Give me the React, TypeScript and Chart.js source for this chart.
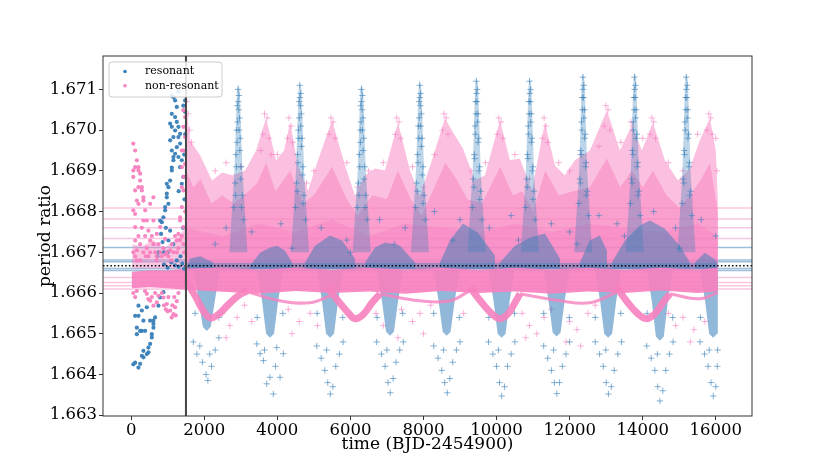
import { useEffect, useRef } from 'react';
import { Chart, registerables } from 'chart.js';

Chart.register(...registerables);

type P = [number, number];

const BLUE = '55, 126, 184';
const PINK = '247, 129, 191';
const rgba = (c: string, a: number) => `rgba(${c}, ${a})`;
const FONT = '"DejaVu Serif", serif';

// axis set-up
const X_MIN = -770;
const X_MAX = 16990;
const Y_MIN = 1.66298;
const Y_MAX = 1.67182;
const SWITCH_TIME = 1500;
const RATIO = 5 / 3;

const xTicks = [0, 2000, 4000, 6000, 8000, 10000, 12000, 14000, 16000];
const yTicks = [1.663, 1.664, 1.665, 1.666, 1.667, 1.668, 1.669, 1.67, 1.671];
const legendLabels = ['resonant', 'non-resonant'];

// horizontal reference levels
const pinkLevels = [1.66809, 1.66782, 1.6676, 1.66734, 1.66638, 1.66626, 1.66618, 1.6661];
const blueLevels = [1.66712, 1.66681, 1.66677, 1.6666, 1.66655];

// before the switch time: plain dots
const blueDots: P[] = [
  [60, 1.66425], [109, 1.66429], [200, 1.66417], [246, 1.66426], [293, 1.66446], [336, 1.66442],
  [429, 1.6645], [473, 1.66454], [383, 1.66507], [246, 1.66507], [156, 1.66515], [109, 1.66544],
  [200, 1.66544], [293, 1.66557], [429, 1.66565], [520, 1.66532], [566, 1.66499], [610, 1.66515],
  [520, 1.66475], [473, 1.66466], [610, 1.66532], [656, 1.6654], [747, 1.66569], [793, 1.66589],
  [883, 1.66602], [156, 1.66499], [293, 1.66507], [336, 1.66532], [200, 1.66569], [336, 1.66458],
  [566, 1.66491], [610, 1.66524], [840, 1.66774], [883, 1.66786], [930, 1.66803], [976, 1.66835],
  [1020, 1.6686], [1067, 1.66876], [1113, 1.66901], [1157, 1.66926], [1203, 1.66942], [1250, 1.66958],
  [1294, 1.66983], [1340, 1.66991], [1067, 1.66975], [1113, 1.67008], [1067, 1.66753], [1020, 1.66729],
  [930, 1.66811], [976, 1.66844], [1113, 1.66908], [1157, 1.66934], [1113, 1.6695], [1157, 1.66983],
  [1203, 1.66999], [1250, 1.6702], [1203, 1.67032], [1113, 1.6704], [1157, 1.67081], [1250, 1.67057],
  [1294, 1.67008], [1340, 1.66967], [1387, 1.66926], [1430, 1.66885], [1477, 1.67073], [1387, 1.66868],
  [1340, 1.66909], [1294, 1.66934], [1067, 1.67016], [976, 1.66868], [1020, 1.66819], [1113, 1.67085],
  [1203, 1.67073], [1294, 1.67095], [1430, 1.6706], [1477, 1.67045], [793, 1.66778], [820, 1.66745],
  [860, 1.66725], [760, 1.667], [720, 1.6669], [900, 1.667], [950, 1.6676], [1000, 1.667],
  [1150, 1.6672], [1300, 1.6685], [1420, 1.6676], [1450, 1.6694], [1480, 1.6699], [1460, 1.6683],
  [1100, 1.66675], [1200, 1.66668], [1300, 1.66665], [1400, 1.66672], [1450, 1.6666], [1000, 1.66662],
  [900, 1.6667], [1350, 1.6669], [1250, 1.6668],
];

const pinkDots: P[] = [
  [60, 1.66967], [109, 1.6695], [156, 1.66926], [200, 1.66901], [60, 1.66901], [246, 1.66876],
  [293, 1.66852], [336, 1.66827], [383, 1.66803], [429, 1.66778], [473, 1.66753], [520, 1.66729],
  [200, 1.6686], [156, 1.66827], [109, 1.66794], [109, 1.66762], [109, 1.66729], [336, 1.66778],
  [610, 1.66778], [703, 1.66745], [793, 1.66762], [930, 1.66733], [520, 1.66819], [610, 1.66835],
  [1387, 1.66811], [1340, 1.66778], [1430, 1.66762], [1294, 1.66745], [1250, 1.66729], [1387, 1.6686],
  [1430, 1.66885], [1477, 1.66917], [1387, 1.6695], [109, 1.66909], [200, 1.66909], [246, 1.66893],
  [293, 1.6686], [336, 1.66835], [200, 1.66819], [109, 1.66852], [60, 1.66885], [60, 1.66803],
  [1340, 1.66786], [1430, 1.66852], [1387, 1.66909], [1430, 1.6695], [1477, 1.66983], [1477, 1.67032],
  [1430, 1.67049], [1430, 1.67008], [60, 1.667], [109, 1.6669], [156, 1.66705], [200, 1.6674],
  [246, 1.6672], [293, 1.6676], [336, 1.667], [383, 1.6674], [429, 1.6671], [473, 1.6669],
  [520, 1.667], [566, 1.6674], [610, 1.6672], [656, 1.667], [703, 1.6669], [747, 1.6672],
  [793, 1.667], [840, 1.6669], [883, 1.6671], [930, 1.66695], [976, 1.667], [1020, 1.6669],
  [1067, 1.66705], [1113, 1.6672], [1157, 1.667], [1203, 1.6674], [1250, 1.667], [1294, 1.6671],
  [1340, 1.6673], [1387, 1.6674], [1430, 1.6672], [1477, 1.668], [1450, 1.667], [1100, 1.6668],
  [700, 1.6668], [400, 1.6669], [250, 1.6668], [150, 1.6668],
  [429, 1.66598], [520, 1.66581], [610, 1.66569], [703, 1.66577], [747, 1.66593], [883, 1.66589],
  [976, 1.66573], [1067, 1.66557], [1157, 1.66548], [1203, 1.66565], [1250, 1.6658], [1294, 1.666],
  [1020, 1.6659], [840, 1.666], [656, 1.666], [566, 1.6659], [470, 1.66585], [380, 1.66605],
  [1130, 1.6657], [1180, 1.6659], [900, 1.6657], [950, 1.6656], [1000, 1.66555], [1110, 1.6654],
  [1220, 1.66545], [60, 1.666], [109, 1.6659], [156, 1.66605],
];

// after the switch time: dense clouds (outlines) plus scattered crosses
const pinkOuter: P[] = [
  [1504, 1.6666], [1504, 1.67068], [1614, 1.66975], [1887, 1.66938], [2215, 1.66876], [2489, 1.66896],
  [2762, 1.66889], [3118, 1.66901], [3419, 1.6695], [3692, 1.67029], [3966, 1.66926], [4185, 1.6695],
  [4349, 1.67019], [4567, 1.66913], [4841, 1.66852], [5114, 1.66926], [5497, 1.67024], [5853, 1.66913],
  [6126, 1.66839], [6400, 1.66889], [6673, 1.66906], [6947, 1.66901], [7302, 1.67019], [7631, 1.66901],
  [7904, 1.66839], [8232, 1.66926], [8588, 1.67029], [8779, 1.66999], [9080, 1.66955], [9408, 1.66876],
  [9682, 1.66889], [10092, 1.67024], [10366, 1.66926], [10639, 1.6693], [10967, 1.66852], [11323, 1.67019],
  [11596, 1.66913], [11870, 1.66889], [12143, 1.66926], [12554, 1.6695], [13019, 1.67049], [13374, 1.6695],
  [13702, 1.67012], [13976, 1.6695], [14277, 1.67019], [14605, 1.66926], [14961, 1.66876], [15289, 1.66906],
  [15562, 1.66975], [15836, 1.67029], [16000, 1.6695], [16054, 1.66827], [16054, 1.6666],
];

const pinkInner: P[] = [
  [1504, 1.6666], [1504, 1.669], [1700, 1.6686], [1900, 1.6688], [2200, 1.6682], [2500, 1.6684],
  [2800, 1.6682], [3100, 1.6684], [3450, 1.6687], [3700, 1.6692], [3950, 1.6685], [4350, 1.669],
  [4700, 1.6682], [5000, 1.6684], [5500, 1.6691], [5900, 1.6683], [6200, 1.6679], [6600, 1.6684],
  [7000, 1.6683], [7300, 1.669], [7650, 1.6683], [7950, 1.6679], [8250, 1.6685], [8600, 1.6692],
  [8900, 1.6688], [9200, 1.6683], [9600, 1.6682], [10100, 1.6691], [10450, 1.6684], [10700, 1.6685],
  [11000, 1.668], [11330, 1.669], [11700, 1.6684], [12100, 1.6685], [12550, 1.6686], [13020, 1.6693],
  [13380, 1.6686], [13700, 1.669], [14000, 1.6686], [14280, 1.669], [14650, 1.6684], [15000, 1.6681],
  [15300, 1.6684], [15600, 1.6688], [15840, 1.6692], [16054, 1.668], [16054, 1.6666],
];

const pinkDense: P[] = [
  [1504, 1.6666], [1504, 1.6676], [2500, 1.6674], [3500, 1.6677], [4500, 1.6675], [5500, 1.6678],
  [6500, 1.6674], [7500, 1.6677], [8500, 1.6676], [9500, 1.6675], [10500, 1.6677], [11500, 1.6675],
  [12500, 1.6677], [13500, 1.6676], [14500, 1.6675], [15500, 1.6677], [16054, 1.6674], [16054, 1.6666],
];

const pinkPre: P[] = [
  [20, 1.6666], [40, 1.6672], [300, 1.66715], [600, 1.6673], [900, 1.6671], [1200, 1.6673],
  [1500, 1.6676], [1500, 1.6666],
];

const pinkBand: P[] = [
  [20, 1.66652], [500, 1.66656], [1000, 1.66655], [1500, 1.6666], [2500, 1.66662], [3500, 1.66658],
  [4500, 1.66662], [5500, 1.66657], [6500, 1.66662], [7500, 1.66658], [8500, 1.66662], [9500, 1.66657],
  [10500, 1.66662], [11500, 1.66658], [12500, 1.66662], [13500, 1.66657], [14500, 1.66662], [15500, 1.66658],
  [16054, 1.66662], [16054, 1.66604], [15500, 1.666], [14500, 1.66606], [13500, 1.666], [12500, 1.66604],
  [11500, 1.66598], [10500, 1.66604], [9500, 1.666], [8500, 1.66605], [7500, 1.66598], [6500, 1.66604],
  [5500, 1.666], [4500, 1.66605], [3500, 1.66598], [2500, 1.66603], [1500, 1.66608], [1000, 1.66612],
  [500, 1.66614], [20, 1.66612],
];

const blueBand: P[] = [[1504, 1.66658], [16054, 1.66658], [16054, 1.66674], [1504, 1.66674]];

const blueHumps: P[][] = [
  [[1532, 1.6666], [1614, 1.66685], [1887, 1.6669], [2243, 1.66675], [2243, 1.6666]],
  [[3255, 1.6666], [3255, 1.66667], [3528, 1.66699], [3802, 1.66712], [3993, 1.66716], [4212, 1.66704], [4404, 1.66675], [4404, 1.6666]],
  [[4759, 1.6666], [4759, 1.66675], [5032, 1.66716], [5443, 1.66741], [5771, 1.66729], [6126, 1.66685], [6126, 1.6666]],
  [[6400, 1.6666], [6400, 1.66675], [6673, 1.66712], [6947, 1.66724], [7357, 1.66716], [7767, 1.66675], [7767, 1.6666]],
  [[8451, 1.6666], [8451, 1.66675], [8725, 1.66729], [9080, 1.66771], [9490, 1.66748], [9955, 1.66692], [9955, 1.6666]],
  [[10092, 1.6666], [10092, 1.66675], [10502, 1.66716], [10913, 1.66736], [11323, 1.66746], [11733, 1.66685], [11733, 1.6666]],
  [[12280, 1.6666], [12280, 1.66675], [12554, 1.66729], [12827, 1.66741], [13019, 1.66704], [13019, 1.6666]],
  [[13155, 1.6666], [13155, 1.66675], [13511, 1.66729], [13921, 1.66766], [14195, 1.66778], [14605, 1.66758], [15015, 1.66716], [15289, 1.66675], [15289, 1.6666]],
  [[15425, 1.6666], [15425, 1.66675], [15699, 1.66699], [16027, 1.6668], [16027, 1.6666]],
];

const blueUp: P[][] = [
  [[2689, 1.667], [2825, 1.669], [2894, 1.67094], [2935, 1.67114], [2976, 1.67094], [3045, 1.669], [3181, 1.667]],
  [[4376, 1.667], [4512, 1.669], [4581, 1.67098], [4622, 1.67118], [4663, 1.67098], [4732, 1.669], [4868, 1.667]],
  [[6064, 1.667], [6200, 1.669], [6269, 1.67094], [6310, 1.67114], [6351, 1.67094], [6420, 1.669], [6556, 1.667]],
  [[7658, 1.667], [7794, 1.669], [7863, 1.67102], [7904, 1.67122], [7945, 1.67102], [8014, 1.669], [8150, 1.667]],
  [[9209, 1.667], [9345, 1.669], [9414, 1.6711], [9455, 1.6713], [9496, 1.6711], [9565, 1.669], [9701, 1.667]],
  [[10667, 1.667], [10803, 1.669], [10872, 1.67107], [10913, 1.67127], [10954, 1.67107], [11023, 1.669], [11159, 1.667]],
  [[12124, 1.667], [12260, 1.669], [12329, 1.67119], [12370, 1.67139], [12411, 1.67119], [12480, 1.669], [12616, 1.667]],
  [[13538, 1.667], [13674, 1.669], [13743, 1.67123], [13784, 1.67143], [13825, 1.67123], [13894, 1.669], [14030, 1.667]],
  [[14952, 1.667], [15088, 1.669], [15157, 1.6712], [15198, 1.6714], [15239, 1.6712], [15308, 1.669], [15444, 1.667]],
];

const blueDown: P[][] = [
  [[1714, 1.66655], [1851, 1.6658], [1961, 1.66517], [2070, 1.66507], [2179, 1.66517], [2289, 1.6658], [2426, 1.66655]],
  [[3446, 1.66655], [3583, 1.6658], [3693, 1.665], [3802, 1.6649], [3911, 1.665], [4021, 1.6658], [4158, 1.66655]],
  [[5087, 1.66655], [5224, 1.6658], [5334, 1.665], [5443, 1.6649], [5552, 1.665], [5662, 1.6658], [5799, 1.66655]],
  [[6728, 1.66655], [6865, 1.6658], [6975, 1.66505], [7084, 1.66495], [7193, 1.66505], [7303, 1.6658], [7440, 1.66655]],
  [[8278, 1.66655], [8415, 1.6658], [8525, 1.66505], [8634, 1.66495], [8743, 1.66505], [8853, 1.6658], [8990, 1.66655]],
  [[9782, 1.66655], [9919, 1.6658], [10029, 1.665], [10138, 1.6649], [10247, 1.665], [10357, 1.6658], [10494, 1.66655]],
  [[11287, 1.66655], [11424, 1.6658], [11534, 1.66503], [11643, 1.66493], [11752, 1.66503], [11862, 1.6658], [11999, 1.66655]],
  [[12698, 1.66655], [12835, 1.6658], [12945, 1.665], [13054, 1.6649], [13163, 1.665], [13273, 1.6658], [13410, 1.66655]],
  [[14112, 1.66655], [14249, 1.6658], [14359, 1.66493], [14468, 1.66483], [14577, 1.66493], [14687, 1.6658], [14824, 1.66655]],
  [[15570, 1.66655], [15707, 1.6658], [15817, 1.665], [15926, 1.6649], [16035, 1.665], [16054, 1.6658], [16054, 1.66655]],
];

const pinkCurves: P[][] = [
  [[1504, 1.6663], [1750, 1.66593], [1969, 1.66557], [2161, 1.66539], [2380, 1.66547], [2653, 1.66571], [2926, 1.66593], [3200, 1.66606]],
  [[5352, 1.66614], [5662, 1.66581], [5935, 1.66552], [6126, 1.66537], [6345, 1.66547], [6591, 1.66576], [6810, 1.66598]],
  [[9272, 1.66614], [9600, 1.66576], [9873, 1.66549], [10092, 1.66537], [10311, 1.66549], [10502, 1.66576], [10639, 1.66598]],
  [[13284, 1.66614], [13593, 1.66576], [13866, 1.66549], [14104, 1.66537], [14331, 1.66549], [14550, 1.66576], [14742, 1.66598]],
];

const pinkStrands: P[][] = [
  [[3255, 1.66601], [4075, 1.66581], [4896, 1.66576], [5443, 1.66593]],
  [[6810, 1.66598], [7904, 1.66581], [8725, 1.66581], [9272, 1.66606]],
  [[10639, 1.66598], [11733, 1.66581], [12554, 1.66576], [13265, 1.66601]],
  [[14742, 1.66598], [15562, 1.66586], [16054, 1.66601]],
];

const bluePlus: P[] = [
  [2925, 1.671], [2950, 1.67085], [2905, 1.6706], [2965, 1.6703], [2890, 1.67], [2985, 1.6698], [2870, 1.6694], [3010, 1.6691], [2845, 1.6687], [3040, 1.6684], [2810, 1.6681], [3080, 1.6678],
  [2930, 1.6707], [2945, 1.6705], [2915, 1.6702], [2955, 1.67], [2900, 1.6697], [2975, 1.6695], [2880, 1.6691], [3000, 1.6688], [2860, 1.6684], [3020, 1.6681],
  [4612, 1.6711], [4640, 1.6709], [4595, 1.6707], [4655, 1.6704], [4580, 1.67], [4675, 1.6698], [4555, 1.6694], [4700, 1.6691], [4530, 1.6687], [4730, 1.6684], [4500, 1.6681], [4770, 1.6678],
  [4617, 1.6708], [4632, 1.6706], [4602, 1.6703], [4642, 1.6701], [4587, 1.6698], [4662, 1.6696], [4567, 1.6692], [4687, 1.6689], [4547, 1.6685], [4707, 1.6682],
  [6300, 1.671], [6328, 1.67085], [6285, 1.6706], [6345, 1.6703], [6270, 1.67], [6365, 1.6698], [6245, 1.6694], [6390, 1.6691], [6220, 1.6687], [6420, 1.6684], [6190, 1.6681], [6460, 1.6678],
  [6305, 1.6707], [6320, 1.6705], [6290, 1.6702], [6330, 1.67], [6275, 1.6697], [6350, 1.6695], [6255, 1.6691], [6375, 1.6688], [6235, 1.6684], [6395, 1.6681],
  [7895, 1.6711], [7920, 1.6709], [7880, 1.6707], [7940, 1.6704], [7862, 1.6701], [7960, 1.6698], [7840, 1.6694], [7985, 1.6691], [7815, 1.6687], [8015, 1.6684], [7785, 1.6681], [8050, 1.6678],
  [7899, 1.6708], [7914, 1.6706], [7884, 1.6703], [7924, 1.6701], [7869, 1.6698], [7944, 1.6696], [7849, 1.6692], [7969, 1.6689], [7829, 1.6685], [7989, 1.6682],
  [9445, 1.6712], [9470, 1.671], [9430, 1.6707], [9490, 1.6704], [9412, 1.6701], [9510, 1.6698], [9390, 1.6694], [9535, 1.6691], [9365, 1.6688], [9565, 1.6685], [9335, 1.6681], [9600, 1.6678],
  [9450, 1.6709], [9465, 1.6707], [9435, 1.6704], [9475, 1.6702], [9420, 1.6699], [9495, 1.6697], [9400, 1.6693], [9520, 1.669], [9380, 1.6686], [9540, 1.6683],
  [10903, 1.6712], [10930, 1.671], [10888, 1.6707], [10948, 1.6704], [10870, 1.6701], [10968, 1.6698], [10848, 1.6694], [10993, 1.6691], [10823, 1.6688], [11023, 1.6685], [10793, 1.6681], [11058, 1.6678],
  [10908, 1.6709], [10923, 1.6707], [10893, 1.6704], [10933, 1.6702], [10878, 1.6699], [10953, 1.6697], [10858, 1.6693], [10978, 1.669], [10838, 1.6686], [10998, 1.6683],
  [12360, 1.6713], [12385, 1.6711], [12345, 1.6708], [12405, 1.6705], [12327, 1.6702], [12425, 1.6699], [12305, 1.6695], [12450, 1.6692], [12280, 1.6688], [12480, 1.6685], [12250, 1.6682], [12515, 1.6679],
  [12365, 1.671], [12380, 1.6708], [12350, 1.6705], [12390, 1.6703], [12335, 1.67], [12410, 1.6698], [12315, 1.6694], [12435, 1.6691], [12295, 1.6687], [12455, 1.6684],
  [13774, 1.6713], [13800, 1.6711], [13759, 1.6708], [13819, 1.6705], [13741, 1.6702], [13839, 1.6699], [13719, 1.6695], [13864, 1.6692], [13694, 1.6688], [13894, 1.6685], [13664, 1.6682], [13929, 1.6679],
  [13779, 1.671], [13794, 1.6708], [13764, 1.6705], [13804, 1.6703], [13749, 1.67], [13824, 1.6698], [13729, 1.6694], [13849, 1.6691], [13709, 1.6687], [13869, 1.6684],
  [15188, 1.6713], [15214, 1.6711], [15173, 1.6708], [15233, 1.6705], [15155, 1.6702], [15253, 1.6699], [15133, 1.6695], [15278, 1.6692], [15108, 1.6688], [15308, 1.6685], [15078, 1.6682], [15343, 1.6679],
  [15193, 1.671], [15208, 1.6708], [15178, 1.6705], [15218, 1.6703], [15163, 1.67], [15238, 1.6698], [15143, 1.6694], [15263, 1.6691], [15123, 1.6687], [15283, 1.6684],
  [2300, 1.6672], [3300, 1.6675], [4100, 1.6677], [5200, 1.6676], [5900, 1.6673], [6800, 1.6678], [7500, 1.6676],
  [8300, 1.668], [9000, 1.6678], [9800, 1.6676], [10400, 1.6679], [11500, 1.6677], [12000, 1.6675], [12800, 1.6679],
  [13300, 1.6677], [14300, 1.668], [14900, 1.6676], [15600, 1.6678], [16000, 1.6674], [2600, 1.6676], [4400, 1.6671],
  [6000, 1.667], [7200, 1.6672], [8800, 1.6673], [10600, 1.6673], [12200, 1.6672], [13500, 1.6674], [15000, 1.6671],
  [1700, 1.6648], [1800, 1.6645], [1950, 1.6643], [2050, 1.664], [2100, 1.66385], [2200, 1.6642], [2300, 1.6646], [2400, 1.6649], [1880, 1.6647], [2150, 1.6645],
  [3440, 1.66475], [3530, 1.66451], [3620, 1.66434], [3710, 1.66377], [3800, 1.66393], [3890, 1.66352], [3985, 1.66466], [4075, 1.66393], [4165, 1.66451], [3950, 1.6642], [3650, 1.6646],
  [5080, 1.6647], [5200, 1.6644], [5300, 1.6641], [5380, 1.6638], [5450, 1.66352], [5520, 1.6637], [5600, 1.6642], [5700, 1.6645], [5800, 1.6648], [5350, 1.6646],
  [6720, 1.6648], [6850, 1.6645], [6950, 1.6642], [7030, 1.6638], [7090, 1.66355], [7170, 1.6639], [7250, 1.6643], [7350, 1.6646], [7450, 1.6648], [7000, 1.6646],
  [8280, 1.6647], [8400, 1.6644], [8500, 1.6641], [8580, 1.6638], [8650, 1.66355], [8720, 1.6639], [8800, 1.6643], [8900, 1.6646], [9000, 1.6648], [8550, 1.6646],
  [9780, 1.6648], [9900, 1.6645], [10000, 1.6642], [10080, 1.6638], [10140, 1.66347], [10220, 1.6637], [10300, 1.6642], [10400, 1.6645], [10500, 1.6648], [10050, 1.6646],
  [11290, 1.6647], [11400, 1.6644], [11500, 1.6641], [11580, 1.6638], [11650, 1.66353], [11720, 1.6638], [11800, 1.6642], [11900, 1.6645], [12000, 1.6648], [11560, 1.6646],
  [12700, 1.6648], [12820, 1.6645], [12920, 1.6642], [13000, 1.6638], [13060, 1.66352], [13140, 1.6637], [13220, 1.6641], [13320, 1.6645], [13420, 1.6648], [12990, 1.6646],
  [14110, 1.6647], [14230, 1.6644], [14330, 1.6641], [14410, 1.6637], [14470, 1.66335], [14550, 1.6636], [14630, 1.6641], [14730, 1.6645], [14830, 1.6648], [14400, 1.6645],
  [15570, 1.6648], [15690, 1.6645], [15790, 1.6642], [15870, 1.6638], [15930, 1.66347], [16000, 1.6637], [16040, 1.6642], [16050, 1.6646], [15820, 1.6646],
  [1750, 1.6655], [2400, 1.6654], [3450, 1.6654], [4150, 1.6655], [5090, 1.6655], [5790, 1.6654], [6730, 1.6654], [7430, 1.6655], [8280, 1.6655], [8980, 1.6654],
  [9790, 1.6654], [10490, 1.6655], [11290, 1.6655], [11990, 1.6654], [12700, 1.6654], [13400, 1.6655], [14120, 1.6655], [14820, 1.6654], [15580, 1.6654],
];

const pinkPlus: P[] = [
  [2500, 1.6655], [2700, 1.6652], [2900, 1.6654], [3100, 1.6657], [3300, 1.6653], [4300, 1.6656], [4600, 1.6653], [4900, 1.6655],
  [5100, 1.6652], [6700, 1.6655], [6900, 1.6652], [7400, 1.6656], [7700, 1.6653], [7900, 1.6655], [8200, 1.6657], [9100, 1.6655],
  [10700, 1.6655], [10900, 1.6652], [11100, 1.665], [11300, 1.6654], [11500, 1.6656], [12000, 1.6653], [12200, 1.6651], [12500, 1.6655],
  [12700, 1.6657], [14700, 1.6655], [14900, 1.6652], [15100, 1.6654], [15400, 1.6651], [15700, 1.6653], [11900, 1.6648], [10800, 1.6649],
  [2600, 1.6649], [4400, 1.665], [7300, 1.6649], [8000, 1.665], [15300, 1.6648], [12300, 1.6647],
  [3650, 1.6704], [3720, 1.6703], [3600, 1.6699], [3780, 1.6698], [3550, 1.6695], [3830, 1.6694],
  [4320, 1.6703], [4380, 1.6701], [4280, 1.6698], [4420, 1.6697], [5470, 1.6703], [5530, 1.6702], [5420, 1.6699], [5580, 1.6698],
  [7270, 1.6703], [7330, 1.6702], [7230, 1.6699], [7380, 1.6698], [8560, 1.6704], [8620, 1.6703], [8520, 1.67], [8670, 1.6699],
  [10060, 1.6703], [10120, 1.6702], [10020, 1.6699], [10170, 1.6698], [11300, 1.6703], [11350, 1.6701], [11250, 1.6698], [11400, 1.6697],
  [12990, 1.6706], [13050, 1.6705], [12950, 1.6701], [13100, 1.67], [13680, 1.6702], [13730, 1.6701], [14250, 1.6703], [14300, 1.6702],
  [14200, 1.6699], [14350, 1.6698], [15810, 1.6704], [15860, 1.6703], [15760, 1.67], [15900, 1.6699], [1520, 1.6707], [1560, 1.6704],
  [1600, 1.67], [1650, 1.6697],
  [2300, 1.669], [2600, 1.6692], [3000, 1.6691], [4000, 1.6694], [4800, 1.6687], [5000, 1.669], [5900, 1.6692], [6200, 1.6686],
  [6500, 1.669], [6900, 1.6692], [7700, 1.6691], [8000, 1.6686], [8300, 1.6694], [9300, 1.669], [9700, 1.6692], [10500, 1.6694],
  [10900, 1.6688], [11700, 1.6692], [12000, 1.669], [12300, 1.6694], [12800, 1.6696], [13400, 1.6697], [14000, 1.6698], [14700, 1.6692],
  [15100, 1.669], [15500, 1.6699], [16000, 1.6698], [16030, 1.669],
];

const pts = (arr: P[]) => arr.map(([x, y]) => ({ x, y }));
const joined = (polys: P[][]) =>
  polys.flatMap((p) => [...pts(p), { x: p[p.length - 1][0], y: null as number | null }]);

const shapeSet = (polys: P[][], color: string) => ({
  type: 'line' as const,
  data: joined(polys),
  fill: 'shape',
  backgroundColor: color,
  borderColor: 'rgba(0,0,0,0)',
  borderWidth: 0,
  pointRadius: 0,
  spanGaps: false,
});

const hline = (y: number, color: string, width: number, dash: number[] = []) => ({
  type: 'line' as const,
  data: [{ x: X_MIN, y }, { x: X_MAX, y }],
  borderColor: color,
  borderWidth: width,
  borderDash: dash,
  pointRadius: 0,
  fill: false,
});

const curveSet = (polys: P[][], color: string, width: number) => ({
  type: 'line' as const,
  data: joined(polys),
  borderColor: color,
  borderWidth: width,
  pointRadius: 0,
  tension: 0.4,
  fill: false,
  spanGaps: false,
});

const crossSet = (arr: P[], color: string) => ({
  type: 'scatter' as const,
  data: pts(arr),
  pointStyle: 'cross',
  pointRadius: 3.2,
  borderWidth: 1,
  borderColor: color,
  backgroundColor: color,
});

const dotSet = (arr: P[], color: string) => ({
  type: 'scatter' as const,
  data: pts(arr),
  pointStyle: 'circle',
  pointRadius: 2.1,
  borderWidth: 0,
  backgroundColor: color,
});

const framePlugin = {
  id: 'frameAndLegend',
  afterDraw(chart: any) {
    const { ctx, chartArea: a } = chart;
    ctx.save();
    ctx.strokeStyle = '#333';
    ctx.lineWidth = 1;
    ctx.strokeRect(a.left, a.top, a.right - a.left, a.bottom - a.top);

    const x0 = a.left + 6;
    const y0 = a.top + 6;
    ctx.fillStyle = 'rgba(255,255,255,0.85)';
    ctx.strokeStyle = '#cccccc';
    ctx.beginPath();
    ctx.roundRect(x0, y0, 113, 35, 3);
    ctx.fill();
    ctx.stroke();
    const colors = [BLUE, PINK];
    ctx.font = `11px ${FONT}`;
    ctx.textBaseline = 'middle';
    legendLabels.forEach((label, i) => {
      const cy = y0 + 9.5 + i * 14.3;
      ctx.fillStyle = rgba(colors[i], 1);
      ctx.beginPath();
      ctx.arc(x0 + 16, cy, 1.8, 0, Math.PI * 2);
      ctx.fill();
      ctx.fillStyle = '#000';
      ctx.fillText(label, x0 + 36, cy);
    });
    ctx.restore();
  },
};

export default function App() {
  const canvasRef = useRef<HTMLCanvasElement>(null);

  useEffect(() => {
    if (!canvasRef.current) return;

    // back to front
    const layers: any[] = [
      ...pinkLevels.map((v) => hline(v, rgba(PINK, 0.45), 1.5)),
      ...blueLevels.map((v) => hline(v, rgba(BLUE, 0.5), 1.5)),
      shapeSet([pinkOuter], rgba(PINK, 0.5)),
      shapeSet([pinkInner], rgba(PINK, 0.5)),
      shapeSet([pinkDense, pinkPre], rgba(PINK, 0.45)),
      crossSet(pinkPlus, rgba(PINK, 0.6)),
      shapeSet([blueBand], rgba(BLUE, 0.45)),
      shapeSet(blueHumps, rgba(BLUE, 0.5)),
      shapeSet(blueUp, rgba(BLUE, 0.33)),
      shapeSet(blueDown, rgba(BLUE, 0.55)),
      crossSet(bluePlus, rgba(BLUE, 0.6)),
      shapeSet([pinkBand], rgba(PINK, 0.92)),
      curveSet(pinkStrands, rgba(PINK, 0.8), 3),
      curveSet(pinkCurves, rgba(PINK, 0.9), 7),
      dotSet(blueDots, rgba(BLUE, 0.95)),
      dotSet(pinkDots, rgba(PINK, 0.95)),
      hline(RATIO, '#000', 1.5, [1.5, 2.2]),
      {
        type: 'line',
        data: [{ x: SWITCH_TIME, y: Y_MIN }, { x: SWITCH_TIME, y: Y_MAX }],
        borderColor: '#444',
        borderWidth: 2,
        pointRadius: 0,
        fill: false,
      },
    ];
    const datasets = layers.map((d, i) => ({ ...d, order: layers.length - i }));

    const tickFont = { family: FONT, size: 16.5 };
    const titleFont = { family: FONT, size: 17 };
    const grid = { display: true, drawOnChartArea: false, drawTicks: true, tickLength: 4, color: '#333' };

    const chart = new Chart(canvasRef.current, {
      type: 'scatter',
      data: { datasets },
      options: {
        animation: false,
        responsive: true,
        maintainAspectRatio: false,
        events: [],
        layout: { padding: { top: 56, right: 78, bottom: 0, left: 0 } },
        plugins: { legend: { display: false }, tooltip: { enabled: false } },
        scales: {
          x: {
            type: 'linear',
            min: X_MIN,
            max: X_MAX,
            afterBuildTicks: (s: any) => { s.ticks = xTicks.map((value) => ({ value })); },
            afterFit: (s: any) => { s.height = 51; },
            ticks: { font: tickFont, color: '#000', padding: 1, autoSkip: false, maxRotation: 0, callback: (v: any) => String(v) },
            grid,
            border: { display: false },
            title: { display: true, text: 'time (BJD-2454900)', font: titleFont, color: '#000', padding: { top: 0, bottom: 12 } },
          },
          y: {
            type: 'linear',
            min: Y_MIN,
            max: Y_MAX,
            afterBuildTicks: (s: any) => { s.ticks = yTicks.map((value) => ({ value })); },
            afterFit: (s: any) => { s.width = 103; },
            ticks: { font: tickFont, color: '#000', padding: 2, autoSkip: false, callback: (v: any) => Number(v).toFixed(3) },
            grid,
            border: { display: false },
            title: { display: true, text: 'period ratio', font: titleFont, color: '#000', padding: { top: 35, bottom: 0 } },
          },
        },
      } as any,
      plugins: [framePlugin],
    });

    return () => chart.destroy();
  }, []);

  return (
    <div style={{ position: 'absolute', left: 0, top: 0, width: 830, height: 467, background: '#fff' }}>
      <canvas ref={canvasRef} />
    </div>
  );
}
